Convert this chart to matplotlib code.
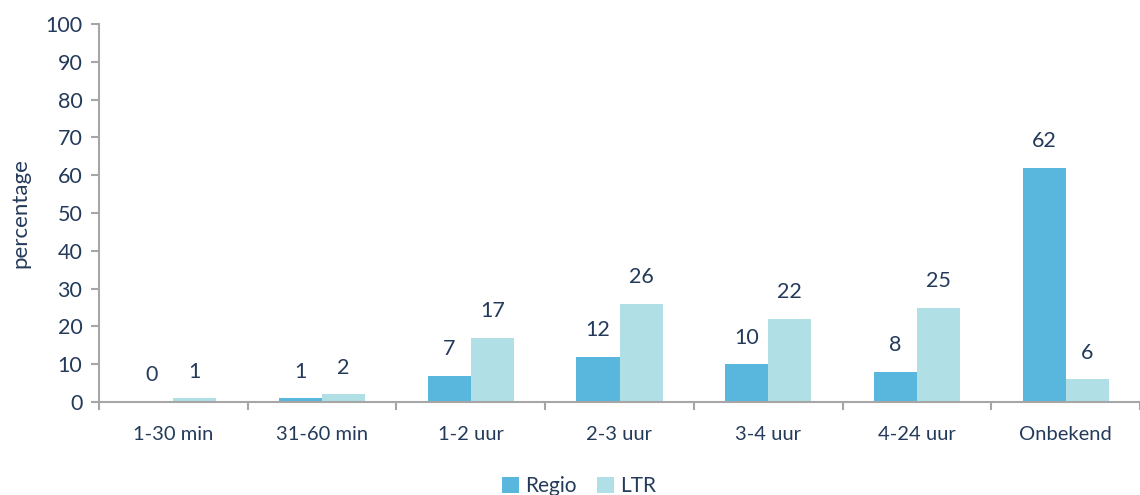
import matplotlib
matplotlib.use("Agg")
import matplotlib.pyplot as plt
import numpy as np

categories = ["1-30 min", "31-60 min", "1-2 uur", "2-3 uur", "3-4 uur", "4-24 uur", "Onbekend"]
regio = [0, 1, 7, 12, 10, 8, 62]
ltr = [1, 2, 17, 26, 22, 25, 6]
yticks = [0, 10, 20, 30, 40, 50, 60, 70, 80, 90, 100]

text_color = "#243A5A"
axis_color = "#A6A6A6"
c_regio = "#59B7DD"
c_ltr = "#B0DFE5"

plt.rcParams['font.family'] = ['Lato', 'DejaVu Sans']

fig = plt.figure(figsize=(11.4, 4.95), dpi=100)
ax = fig.add_axes([99/1140, 1-402/495, 1-99/1140, (402-24)/495])

x = np.arange(len(categories))
w = 0.29
b1 = ax.bar(x - w/2, regio, w, color=c_regio, label="Regio")
b2 = ax.bar(x + w/2, ltr, w, color=c_ltr, label="LTR")

for bars, vals in ((b1, regio), (b2, ltr)):
    for rect, v in zip(bars, vals):
        ax.annotate(str(v), (rect.get_x() + rect.get_width()/2, v),
                    xytext=(0, 12), textcoords="offset points",
                    ha="center", va="bottom", fontsize=15.5, color=text_color)

ax.set_xlim(-0.5, len(categories) - 0.5)
ax.set_ylim(0, 100)
ax.set_yticks(yticks)
ax.set_yticklabels([str(t) for t in yticks])
ax.set_xticks(x)
ax.set_xticklabels(categories)
ax.set_xticks(np.arange(len(categories) + 1) - 0.5, minor=True)
ax.tick_params(axis='x', which='major', length=0, pad=17, labelsize=14.5, labelcolor=text_color)
ax.tick_params(axis='x', which='minor', length=6, width=1.5, color=axis_color, direction='out')
ax.tick_params(axis='y', length=6, width=1.5, color=axis_color, labelsize=15.5, labelcolor=text_color, pad=6)

for s in ["top", "right"]:
    ax.spines[s].set_visible(False)
for s in ["left", "bottom"]:
    ax.spines[s].set_color(axis_color)
    ax.spines[s].set_linewidth(1.5)

ax.set_ylabel("percentage", fontsize=16, color=text_color, labelpad=11)

fig.legend(handles=[b1, b2], labels=["Regio", "LTR"], loc="center",
           bbox_to_anchor=(0.508, 0.018), ncol=2, frameon=False, fontsize=15,
           labelcolor=text_color, handlelength=0.8, handleheight=0.8,
           handletextpad=0.3, columnspacing=1.0)

fig.savefig("out.png", dpi=100)
